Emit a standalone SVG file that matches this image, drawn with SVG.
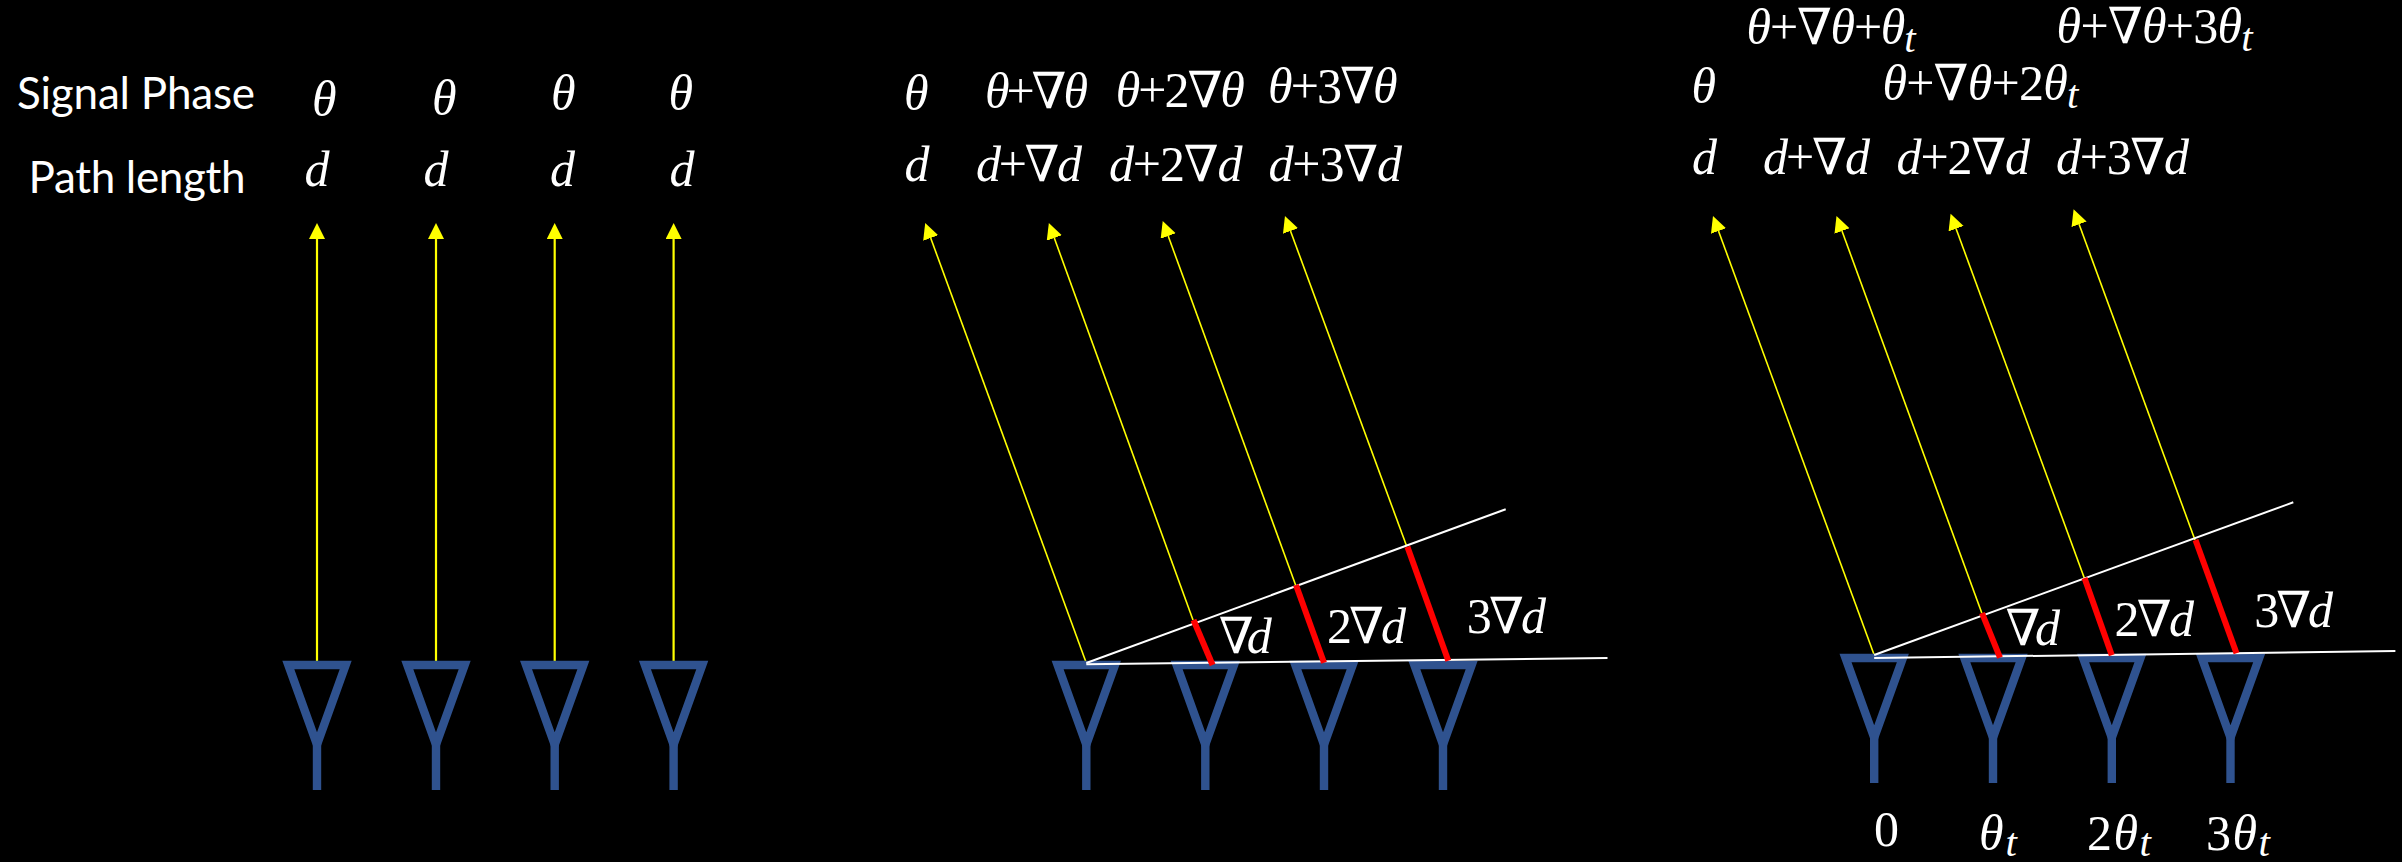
<svg xmlns="http://www.w3.org/2000/svg" width="2402" height="862" viewBox="0 0 2402 862">
<style>
.m{font-family:"Liberation Serif","DejaVu Serif",serif;font-size:50px;fill:#fff}
.i{font-style:italic}
.s{font-style:italic;font-size:41px}
.l{font-family:Lato,"Liberation Sans",sans-serif;font-size:44px;fill:#fff}
.y{stroke:#ff0;stroke-width:1.6;fill:none;marker-end:url(#a)}
.v{stroke-width:2.2}
.w{stroke:#fff;stroke-width:2;fill:none}
.r{stroke:#f00;stroke-width:6;fill:none}
.ant{stroke:#2f528f;stroke-width:8.4;fill:none}
</style>
<defs>
<marker id="a" markerUnits="userSpaceOnUse" markerWidth="18" markerHeight="18" refX="0" refY="8" orient="auto"><path d="M0 0L16 8L0 16Z" fill="#ff0"/></marker>
<g id="antenna"><path class="ant" d="M-28.7 4H28.7L0 83.6Z"/><path class="ant" d="M0 80V129"/></g>
</defs>
<rect width="2402" height="862" fill="#000"/>
<g id="connectors">
<path class="y v" d="M317 661V239"/><path class="y v" d="M436 661V239"/><path class="y v" d="M554.7 661V239"/><path class="y v" d="M673.6 661V239"/>
<path class="y" d="M1086.3 663L930.7 238"/><path class="y" d="M1193 620L1054.3 238"/><path class="y" d="M1295.6 585L1168.2 236"/><path class="y" d="M1406.6 546L1290.5 231"/>
<path class="y" d="M1874.2 655L1718.5 231"/><path class="y" d="M1981.8 613L1842 231"/><path class="y" d="M2084.3 578L1956.1 228.7"/><path class="y" d="M2195 540L2079.1 224.3"/>
</g>
<g id="antennas">
<g id="a1-1"><use href="#antenna" x="317" y="661"/></g><g id="a1-2"><use href="#antenna" x="436" y="661"/></g><g id="a1-3"><use href="#antenna" x="554.7" y="661"/></g><g id="a1-4"><use href="#antenna" x="673.6" y="661"/></g>
<g id="a2-1"><use href="#antenna" x="1086.3" y="661"/></g><g id="a2-2"><use href="#antenna" x="1205.3" y="661"/></g><g id="a2-3"><use href="#antenna" x="1324" y="661"/></g><g id="a2-4"><use href="#antenna" x="1443" y="661"/></g>
<g id="a3-1"><use href="#antenna" x="1874.2" y="654"/></g><g id="a3-2"><use href="#antenna" x="1993" y="654"/></g><g id="a3-3"><use href="#antenna" x="2111.8" y="654"/></g><g id="a3-4"><use href="#antenna" x="2230.5" y="654"/></g>
</g>
<g id="geometry">
<path class="w" d="M1086.3 663L1505.7 509.3"/><path class="w" d="M1086.3 664.3L1607.5 658"/>
<path class="r" d="M1193.5 620L1212.6 665"/><path class="r" d="M1296 585L1324 662.7"/><path class="r" d="M1407.4 546.7L1448.3 660.7"/>
<path class="w" d="M1874.2 655L2293.3 502.3"/><path class="w" d="M1874.2 658L2395.4 651"/>
<path class="r" d="M1982 613L2000 657.7"/><path class="r" d="M2084.5 578L2111.8 655.3"/><path class="r" d="M2195.5 540L2236.5 653.3"/>
</g>
<g id="labels">
<text class="l" x="17" y="109" textLength="238">Signal Phase</text>
<text class="l" x="28.6" y="192.7" textLength="217">Path length</text>
<text class="m i" x="312" y="116">θ</text><text class="m i" x="432" y="115">θ</text><text class="m i" x="551" y="110">θ</text><text class="m i" x="668.5" y="110">θ</text>
<text class="m i" x="304.6" y="185.7">d</text><text class="m i" x="423.5" y="185.7">d</text><text class="m i" x="550" y="185.7">d</text><text class="m i" x="669.4" y="185.7">d</text>

<text class="m i" x="904" y="110">θ</text>
<text class="m" x="985" y="108" textLength="103"><tspan class="i">θ</tspan>+∇<tspan class="i">θ</tspan></text>
<text class="m" x="1115.8" y="107" textLength="129"><tspan class="i">θ</tspan>+2∇<tspan class="i">θ</tspan></text>
<text class="m" x="1268" y="103" textLength="129.5"><tspan class="i">θ</tspan>+3∇<tspan class="i">θ</tspan></text>
<text class="m i" x="904.6" y="181">d</text>
<text class="m" x="976" y="181" textLength="106"><tspan class="i">d</tspan>+∇<tspan class="i">d</tspan></text>
<text class="m" x="1109" y="181" textLength="133.6"><tspan class="i">d</tspan>+2∇<tspan class="i">d</tspan></text>
<text class="m" x="1268.5" y="181" textLength="133.5"><tspan class="i">d</tspan>+3∇<tspan class="i">d</tspan></text>
<text class="m" x="1218.7" y="652.7" textLength="53">∇<tspan class="i">d</tspan></text>
<text class="m" x="1327" y="643" textLength="79">2∇<tspan class="i">d</tspan></text>
<text class="m" x="1466.7" y="633" textLength="79.3">3∇<tspan class="i">d</tspan></text>

<text class="m" x="1746.6" y="43.7" textLength="169"><tspan class="i">θ</tspan>+∇<tspan class="i">θ</tspan>+<tspan class="i">θ</tspan><tspan class="s" dy="8">t</tspan></text>
<text class="m" x="2056.6" y="43" textLength="196"><tspan class="i">θ</tspan>+∇<tspan class="i">θ</tspan>+3<tspan class="i">θ</tspan><tspan class="s" dy="8">t</tspan></text>
<text class="m i" x="1691.5" y="103">θ</text>
<text class="m" x="1882.4" y="100" textLength="196"><tspan class="i">θ</tspan>+∇<tspan class="i">θ</tspan>+2<tspan class="i">θ</tspan><tspan class="s" dy="8">t</tspan></text>
<text class="m i" x="1692" y="174">d</text>
<text class="m" x="1763" y="174" textLength="107"><tspan class="i">d</tspan>+∇<tspan class="i">d</tspan></text>
<text class="m" x="1896.6" y="174" textLength="133.4"><tspan class="i">d</tspan>+2∇<tspan class="i">d</tspan></text>
<text class="m" x="2056" y="174" textLength="133"><tspan class="i">d</tspan>+3∇<tspan class="i">d</tspan></text>
<text class="m" x="2005.6" y="645.3" textLength="54.4">∇<tspan class="i">d</tspan></text>
<text class="m" x="2114.4" y="635.7" textLength="79.6">2∇<tspan class="i">d</tspan></text>
<text class="m" x="2254.3" y="626.7" textLength="78.7">3∇<tspan class="i">d</tspan></text>
<text class="m" x="1874" y="846">0</text>
<text class="m" x="1979" y="850" textLength="38"><tspan class="i">θ</tspan><tspan class="s" dy="6">t</tspan></text>
<text class="m" x="2087" y="850" textLength="64">2<tspan class="i">θ</tspan><tspan class="s" dy="6">t</tspan></text>
<text class="m" x="2206" y="850" textLength="64">3<tspan class="i">θ</tspan><tspan class="s" dy="6">t</tspan></text>
</g>
</svg>
